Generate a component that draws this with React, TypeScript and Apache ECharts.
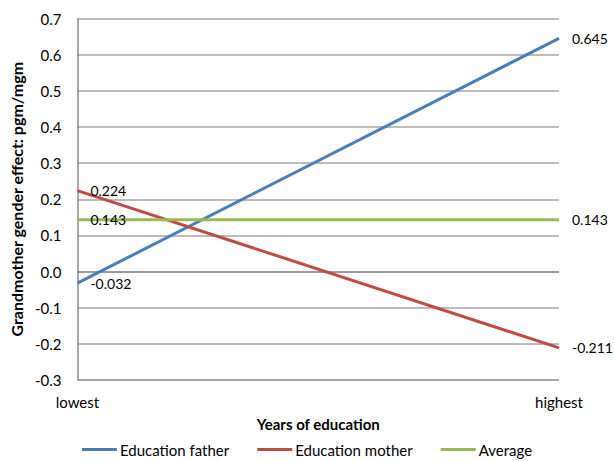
import React, { useEffect, useRef } from "react";
import * as echarts from "echarts";

const categories = ["lowest", "highest"];
const educationFather = [-0.032, 0.645];
const educationMother = [0.224, -0.211];
const average = [0.143, 0.143];
const seriesNames = ["Education father", "Education mother", "Average"];
const colors = ["#4A7EBB", "#BE4B48", "#98B954"];

export default function App() {
  const ref = useRef<HTMLDivElement>(null);
  useEffect(() => {
    if (!ref.current) return;
    const chart = echarts.init(ref.current, undefined, { renderer: "svg" });
    const font = "Lato";
    const mk = (name: string, data: number[], color: string) => ({
      name,
      type: "line",
      data,
      symbol: "circle",
      symbolSize: 0,
      showSymbol: true,
      lineStyle: { color, width: 3 },
      itemStyle: { color },
      label: {
        show: true,
        position: "right",
        distance: 13,
        color: "#000",
        fontFamily: font,
        fontSize: 14,
        formatter: (p: any) => Number(p.value).toFixed(3),
      },
    });
    chart.setOption({
      animation: false,
      textStyle: { fontFamily: font },
      grid: { left: 72, right: 55, top: 18.5, bottom: 81, containLabel: false },
      legend: {
        bottom: -1,
        left: "center",
        icon: "rect",
        itemWidth: 35,
        itemHeight: 3,
        itemGap: 28,
        textStyle: { fontFamily: font, fontSize: 15, color: "#000", padding: [0, 0, 0, -2] },
        data: seriesNames,
      },
      xAxis: {
        type: "category",
        data: categories,
        boundaryGap: false,
        axisLine: { show: false },
        axisTick: { show: false },
        axisLabel: { color: "#000", fontSize: 15, fontFamily: font, margin: 14 },
        name: "Years of education",
        nameLocation: "middle",
        nameGap: 36,
        nameTextStyle: { fontWeight: "bold", fontSize: 15, color: "#000", fontFamily: font },
      },
      yAxis: {
        type: "value",
        min: -0.3,
        max: 0.7,
        interval: 0.1,
        axisLine: { show: true, onZero: false, lineStyle: { color: "#8c8c8c", width: 1.5 } },
        axisTick: { show: false },
        axisLabel: {
          color: "#000",
          fontSize: 15,
          fontFamily: font,
          margin: 16,
          formatter: (v: number) => v.toFixed(1),
        },
        splitLine: {
          lineStyle: {
            color: ["#8c8c8c", "#a6a6a6", "#a6a6a6", "#7a7a7a", "#a6a6a6", "#a6a6a6", "#a6a6a6", "#a6a6a6", "#a6a6a6", "#a6a6a6", "#a6a6a6"],
            width: 1.5,
          },
        },
        name: "Grandmother gender effect: pgm/mgm",
        nameLocation: "middle",
        nameGap: 47,
        nameTextStyle: { fontWeight: "bold", fontSize: 16, color: "#000", fontFamily: font },
      },
      series: [
        mk(seriesNames[0], educationFather, colors[0]),
        mk(seriesNames[1], educationMother, colors[1]),
        mk(seriesNames[2], average, colors[2]),
      ],
    });
    return () => chart.dispose();
  }, []);
  return <div ref={ref} style={{ width: 614, height: 461, position: "absolute", left: 0, top: 0, background: "#fff" }} />;
}
